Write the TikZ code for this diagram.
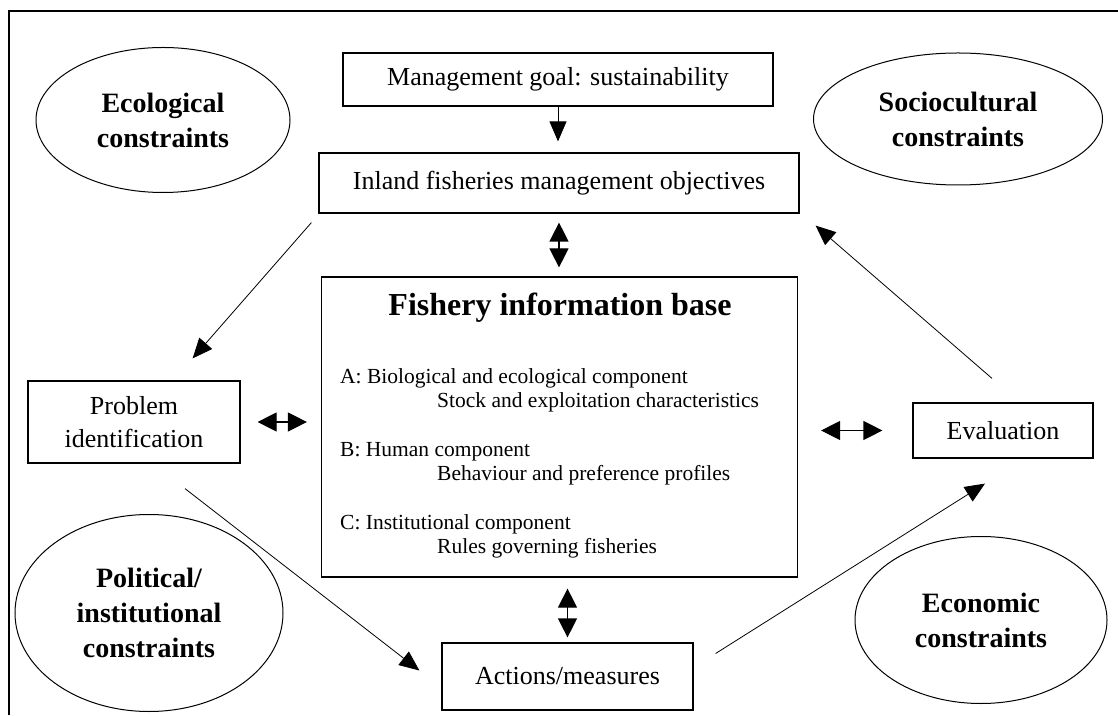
\documentclass[tikz,border=0pt]{standalone}
\usepackage{fontspec}
\setmainfont{Liberation Serif}
\usetikzlibrary{arrows.meta,shapes.geometric}

\begin{document}
\begin{tikzpicture}[x=1pt,y=1pt,
  box/.style={draw,line width=1.2pt,inner sep=0pt,align=center,font=\fontsize{26}{33}\selectfont},
  cloud/.style={draw,ellipse,line width=1pt,inner sep=0pt,align=center,font=\bfseries\fontsize{28}{35}\selectfont},
  arr/.style={-{Triangle[length=20pt,width=17pt]},line width=0.8pt},
  dbl/.style={{Triangle[length=19pt,width=19pt]}-{Triangle[length=19pt,width=19pt]},line width=1.2pt}]
\useasboundingbox (0,0) rectangle (1118,715);
\draw[line width=1.5pt] (9,0) -- (9,704) -- (1118,704);
\node[cloud,minimum width=254,minimum height=145] (eco) at (163,595) {Ecological\\constraints};
\node[cloud,minimum width=289,minimum height=132] (socio) at (958,596) {Sociocultural\\constraints};
\node[cloud,minimum width=268,minimum height=197] (polit) at (149,102) {Political/\\institutional\\constraints};
\node[cloud,minimum width=252,minimum height=167] (econ) at (981,95) {Economic\\constraints};
\node[box,minimum width=430,minimum height=53] (goal) at (558,635.5) {Management goal: sustainability};
\node[box,minimum width=480,minimum height=60] (inland) at (559,532) {Inland fisheries management objectives};
\node[box,minimum width=476,minimum height=300] (fishery) at (559.5,288) {};
\node[box,minimum width=212,minimum height=82] (problem) at (134,293) {Problem\\identification};
\node[box,minimum width=180,minimum height=55] (eval) at (1003,284.5) {Evaluation};
\node[box,minimum width=251,minimum height=67] (actions) at (567.5,38.5) {Actions/measures};
\node[font=\bfseries\fontsize{32}{38}\selectfont,anchor=base] (title) at (560,399) {Fishery information base};
\node[anchor=north west,align=left,inner sep=0pt,font=\fontsize{21.5}{24}\selectfont] (comp) at (340,347)
  {A: Biological and ecological component\\\hspace*{97pt}Stock and exploitation characteristics\\[25pt]
   B: Human component\\\hspace*{97pt}Behaviour and preference profiles\\[25pt]
   C: Institutional component\\\hspace*{97pt}Rules governing fisheries};
\draw[arr,shorten >=11pt] (goal.south) -- (goal.south |- inland.north);
\draw[dbl,shorten <=9pt,shorten >=9pt] (inland.south) -- (inland.south |- fishery.north);
\draw[arr] ([shift={(-7,-9)}]inland.south west) -- ([shift={(-48,22)}]problem.north east);
\draw[dbl,shorten <=17pt,shorten >=14pt] (problem.east) -- (fishery.west |- problem.east);
\draw[dbl,shorten <=23pt,shorten >=30pt] (fishery.east |- eval.west) -- (eval.west);
\draw[arr] ([shift={(51,-25)}]problem.south) -- ([shift={(-22,6)}]actions.west);
\draw[dbl,shorten <=11pt,shorten >=5pt] (fishery.south -| actions.north) -- (actions.north);
\draw[arr] ([shift={(22,23)}]actions.east) -- ([shift={(-18,-25)}]eval.south);
\draw[arr] ([shift={(-11,24)}]eval.north) -- ([shift={(16,-12)}]inland.south east);
\end{tikzpicture}
\end{document}
